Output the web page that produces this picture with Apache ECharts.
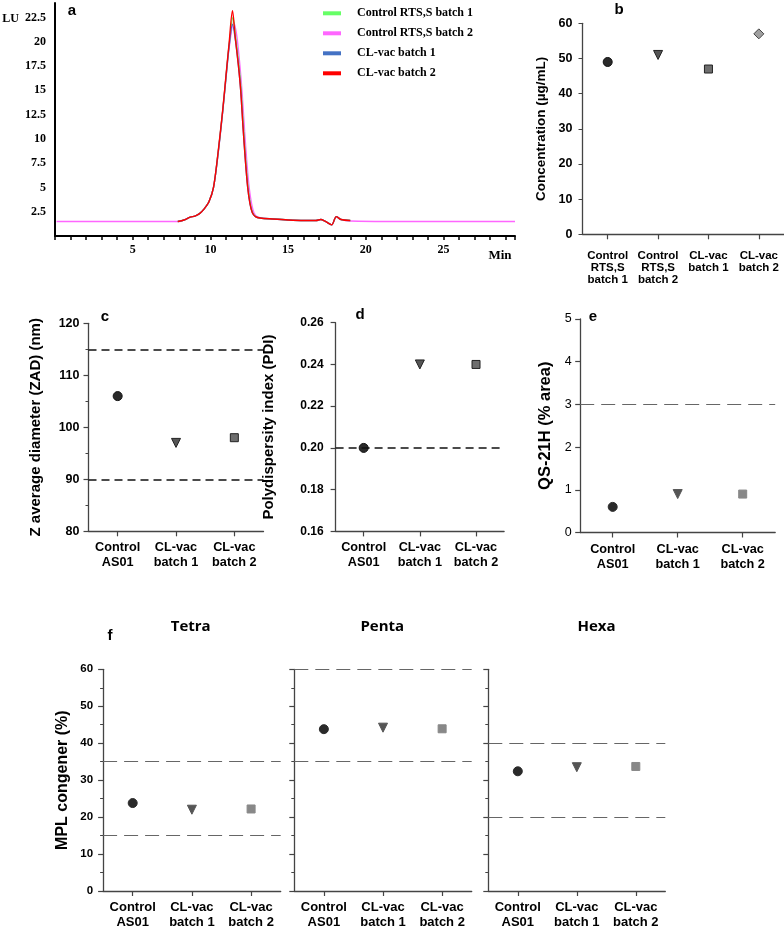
<!DOCTYPE html>
<html><head><meta charset="utf-8">
<script src="https://cdn.jsdelivr.net/npm/echarts@6/dist/echarts.min.js"></script>
<style>html,body{margin:0;padding:0;background:#fff}#c{width:784px;height:932px}</style>
</head><body><div id="c"></div>
<script>
// ---------- DATA ----------
const hplcNames = ['Control RTS,S batch 1', 'Control RTS,S batch 2', 'CL-vac batch 1', 'CL-vac batch 2'];
const hplcGreen = [[7.9,1.5],[8.3,1.65],[8.7,1.95],[9.0,2.05],[9.3,2.3],[9.6,2.8],[9.9,3.5],[10.2,5.0],[10.5,8.6],[10.8,13.0],[11.0,16.3],[11.2,19.6],[11.45,22.5],[11.62,20.6],[11.82,17.8],[11.97,15.2],[12.12,11.4],[12.27,7.9],[12.42,5.1],[12.57,3.3],[12.72,2.4],[12.92,2.0],[13.2,1.85],[14.0,1.75],[15.0,1.65],[16.0,1.6],[16.8,1.6],[17.1,1.7],[17.4,1.5],[17.8,1.15],[18.1,2.0],[18.4,1.7],[19.0,1.6]];
const hplcPink = [[0.1,1.5],[8.0,1.5],[8.3,1.65],[8.7,1.95],[9.0,2.05],[9.3,2.3],[9.6,2.8],[9.9,3.5],[10.2,5.0],[10.5,8.5],[10.8,12.9],[11.0,16.2],[11.2,19.3],[11.5,22.0],[11.7,20.6],[11.9,17.5],[12.05,14.5],[12.2,10.8],[12.35,7.5],[12.5,4.9],[12.65,3.3],[12.8,2.4],[13.0,2.0],[13.3,1.85],[14.0,1.75],[15.0,1.65],[16.0,1.6],[16.8,1.6],[17.1,1.7],[17.4,1.5],[17.8,1.15],[18.1,2.0],[18.4,1.7],[19.0,1.55],[22.0,1.5],[29.6,1.5]];
const hplcBlue = [[7.9,1.5],[8.3,1.65],[8.7,1.95],[9.0,2.05],[9.3,2.3],[9.6,2.8],[9.9,3.5],[10.2,5.0],[10.5,8.6],[10.8,13.0],[11.0,16.3],[11.2,19.5],[11.42,21.8],[11.6,20.3],[11.8,17.6],[11.95,15.0],[12.1,11.2],[12.25,7.8],[12.4,5.0],[12.55,3.3],[12.7,2.4],[12.9,2.0],[13.2,1.85],[14.0,1.75],[15.0,1.65],[16.0,1.6],[16.8,1.6],[17.1,1.7],[17.4,1.5],[17.8,1.15],[18.1,2.0],[18.4,1.7],[19.0,1.6]];
const hplcRed = [[7.9,1.5],[8.3,1.65],[8.7,1.95],[9.0,2.05],[9.3,2.3],[9.6,2.8],[9.9,3.5],[10.2,5.0],[10.5,8.7],[10.8,13.1],[11.0,16.5],[11.2,19.8],[11.42,23.2],[11.6,20.4],[11.8,17.6],[11.95,15.0],[12.1,11.2],[12.25,7.8],[12.4,5.0],[12.55,3.3],[12.7,2.4],[12.9,2.0],[13.2,1.85],[14.0,1.75],[15.0,1.65],[16.0,1.6],[16.8,1.6],[17.1,1.7],[17.4,1.5],[17.8,1.15],[18.1,2.0],[18.4,1.7],[19.0,1.6]];

const concCategories = ['Control\nRTS,S\nbatch 1', 'Control\nRTS,S\nbatch 2', 'CL-vac\nbatch 1', 'CL-vac\nbatch 2'];
const concValues = [49, 51, 47, 57];

const as01Categories = ['Control\nAS01', 'CL-vac\nbatch 1', 'CL-vac\nbatch 2'];
const zadValues = [106, 97, 98];
const zadLimits = [115, 90];
const pdiValues = [0.20, 0.24, 0.24];
const pdiLimits = [0.20];
const qsValues = [0.6, 0.9, 0.9];
const qsLimits = [3];
const tetraValues = [23.8, 22.0, 22.2];
const tetraLimits = [35, 15];
const pentaValues = [43.8, 44.2, 43.9];
const pentaLimits = [60, 35];
const hexaValues = [32.4, 33.5, 33.7];
const hexaLimits = [40, 20];

// ---------- STYLE ----------
const SANS = '"Liberation Sans", Arial, sans-serif';
const SERIF = '"Liberation Serif", "Times New Roman", serif';
const AX = '#444';

const symB = [
  {symbol:'circle', size:9, color:'#2a2a2a', border:'#111'},
  {symbol:'triangle', rotate:180, size:9, color:'#555', border:'#222'},
  {symbol:'rect', size:8, color:'#6e6e6e', border:'#222'},
  {symbol:'diamond', size:10, color:'#a0a0a0', border:'#444'}
];
const symC = [
  {symbol:'circle', size:9, color:'#2a2a2a', border:'#111'},
  {symbol:'triangle', rotate:180, size:9, color:'#555', border:'#222'},
  {symbol:'rect', size:8, color:'#6e6e6e', border:'#222'}
];
const symE = [
  {symbol:'circle', size:9, color:'#2a2a2a', border:'#2a2a2a'},
  {symbol:'triangle', rotate:180, size:9, color:'#555', border:'#555'},
  {symbol:'rect', size:8, color:'#888', border:'#888'}
];

function scatter(xi, vals, syms, limits, lineStyle) {
  const s = {
    type:'scatter', xAxisIndex:xi, yAxisIndex:xi, silent:true,
    data: vals.map((v,i)=>({value:v, symbol:syms[i].symbol, symbolSize:syms[i].size, symbolRotate:syms[i].rotate||0,
      itemStyle:{color:syms[i].color, borderColor:syms[i].border, borderWidth:1, opacity:1}}))
  };
  if (limits) {
    s.markLine = {silent:true, symbol:['none','none'], label:{show:false}, animation:false,
      lineStyle:lineStyle, data: limits.map(l=>({yAxis:l}))};
  }
  return s;
}
function catX(gi, cats, fs, lh, margin) {
  return {gridIndex:gi, type:'category', data:cats, boundaryGap:true,
    axisLine:{show:true, lineStyle:{color:AX, width:1.3}},
    axisTick:{show:true, alignWithLabel:true, length:5, lineStyle:{color:AX, width:1.2}},
    axisLabel:{interval:0, fontFamily:SANS, fontWeight:'bold', fontSize:fs, lineHeight:lh, color:'#000', margin:margin},
    splitLine:{show:false}};
}
function valY(gi, min, max, interval, o) {
  return Object.assign({gridIndex:gi, type:'value', min:min, max:max, interval:interval,
    axisLine:{show:true, lineStyle:{color:AX, width:1.3}},
    axisTick:{show:true, length:5, lineStyle:{color:AX, width:1.2}},
    splitLine:{show:false},
    axisLabel:{fontFamily:SANS, fontWeight:'bold', fontSize:12, color:'#000', margin:10},
    nameLocation:'middle'}, o);
}

const chart = echarts.init(document.getElementById('c'), null, {renderer:'canvas'});

const grids = [
  {left:55, top:3, width:460, height:233},          // a
  {left:582.5, top:23.3, width:201.5, height:211},  // b
  {left:88.5, top:323.3, width:175, height:208},    // c
  {left:335.6, top:322.7, width:168.5, height:208.7}, // d
  {left:580.2, top:319, width:195, height:213.5},   // e
  {left:103.1, top:669.3, width:177.6, height:221.7}, // tetra
  {left:294.3, top:669.3, width:177.4, height:221.7}, // penta
  {left:488.3, top:669.3, width:177, height:221.7}   // hexa
];

const xAxes = [
  {gridIndex:0, type:'value', min:0, max:29.6, interval:1,
    axisLine:{show:true, lineStyle:{color:'#000', width:2}},
    axisTick:{show:true, length:4, lineStyle:{color:'#000', width:1.5}},
    axisLabel:{formatter:v=>(v>0 && v%5===0)?String(v):'', fontFamily:SERIF, fontWeight:'bold', fontSize:12, color:'#000', margin:8},
    splitLine:{show:false}},
  catX(1, concCategories, 11.5, 12.3, 15),
  catX(2, as01Categories, 12.7, 15, 9),
  catX(3, as01Categories, 12.7, 15, 9),
  catX(4, as01Categories, 12.7, 15, 9),
  catX(5, as01Categories, 13, 15, 9),
  catX(6, as01Categories, 13, 15, 9),
  catX(7, as01Categories, 13, 15, 9)
];

const yAxes = [
  {gridIndex:0, type:'value', min:0, max:24, interval:2.5,
    axisLine:{show:true, lineStyle:{color:'#000', width:2}},
    axisTick:{show:false},
    axisLabel:{formatter:v=>(v>0 && v<23)?String(v):'', fontFamily:SERIF, fontWeight:'bold', fontSize:12, color:'#000', margin:9},
    splitLine:{show:false}},
  valY(1, 0, 60, 10, {name:'Concentration (µg/mL)', nameGap:34, axisTick:{show:true, length:4, lineStyle:{color:AX}},
    axisLabel:{fontFamily:SANS, fontWeight:'bold', fontSize:12.5, color:'#000', margin:10},
    nameTextStyle:{fontFamily:SANS, fontWeight:'bold', fontSize:13.5, color:'#000'}}),
  valY(2, 80, 120, 10, {name:'Z average diameter (ZAD) (nm)', nameGap:45,
    minorTick:{show:true, splitNumber:2, length:3, lineStyle:{color:AX}},
    axisLabel:{fontFamily:SANS, fontWeight:'bold', fontSize:12.5, color:'#000', margin:9},
    nameTextStyle:{fontFamily:SANS, fontWeight:'bold', fontSize:15, color:'#000'}}),
  valY(3, 0.16, 0.26, 0.02, {name:'Polydispersity index (PDI)', nameGap:59,
    axisLabel:{fontFamily:SANS, fontWeight:'bold', fontSize:12, color:'#000', margin:12, formatter:v=>v.toFixed(2)},
    nameTextStyle:{fontFamily:SANS, fontWeight:'bold', fontSize:15, color:'#000'}}),
  valY(4, 0, 5, 1, {name:'QS-21H (% area)', nameGap:26,
    axisLabel:{fontFamily:SANS, fontWeight:'normal', fontSize:12.5, color:'#000', margin:8.5},
    nameTextStyle:{fontFamily:SANS, fontWeight:'bold', fontSize:16.5, color:'#000'}}),
  valY(5, 0, 60, 10, {name:'MPL congener (%)', nameGap:33,
    minorTick:{show:true, splitNumber:2, length:3, lineStyle:{color:AX}},
    axisLabel:{fontFamily:SANS, fontWeight:'bold', fontSize:11.5, color:'#000', margin:10},
    nameTextStyle:{fontFamily:SANS, fontWeight:'bold', fontSize:16, color:'#000'}}),
  valY(6, 0, 60, 10, {minorTick:{show:true, splitNumber:2, length:3, lineStyle:{color:AX}}, axisLabel:{show:false}}),
  valY(7, 0, 60, 10, {minorTick:{show:true, splitNumber:2, length:3, lineStyle:{color:AX}}, axisLabel:{show:false}})
];

const hplcColors = ['#66ff66', '#ff66ff', '#4472c4', '#ff0000'];
const hplcData = [hplcGreen, hplcPink, hplcBlue, hplcRed];
const series = [];
[1,0,2,3].forEach(i=>{
  series.push({type:'line', name:hplcNames[i], xAxisIndex:0, yAxisIndex:0, data:hplcData[i], showSymbol:false, symbol:'none',
    smooth:0.3, silent:true, color:hplcColors[i], lineStyle:{color:hplcColors[i], width:1.4}});
});

const blackDash = {color:'#111', type:[8,5], width:1.5};
const grayDash = {color:'#666', type:[14,7], width:1};
series.push(scatter(1, concValues, symB, null));
series.push(scatter(2, zadValues, symC, zadLimits, blackDash));
series.push(scatter(3, pdiValues, symC, pdiLimits, blackDash));
series.push(scatter(4, qsValues, symE, qsLimits, grayDash));
series.push(scatter(5, tetraValues, symE, tetraLimits, grayDash));
series.push(scatter(6, pentaValues, symE, pentaLimits, grayDash));
series.push(scatter(7, hexaValues, symE, hexaLimits, grayDash));

function txt(t, x, y, font) {
  return {type:'text', x:x, y:y, silent:true, style:{text:t, font:font, fill:'#000', textAlign:'center', textVerticalAlign:'middle'}};
}
const letterFont = 'bold 15px ' + SANS;
const graphics = [
  txt('a', 72, 11, letterFont), txt('b', 619, 10, letterFont), txt('c', 105, 317, letterFont),
  txt('d', 360, 315, letterFont), txt('e', 593, 317, letterFont), txt('f', 110, 636, letterFont),
  txt('LU', 10.5, 19, 'bold 12px ' + SERIF), txt('Min', 500, 256, 'bold 13px ' + SERIF),
  txt('Tetra', 190.7, 626.7, 'bold 15px "Open Sans", sans-serif'),
  txt('Penta', 382.3, 626.7, 'bold 15px "Open Sans", sans-serif'),
  txt('Hexa', 596.5, 626.7, 'bold 15px "Open Sans", sans-serif')
];

chart.setOption({
  animation:false,
  backgroundColor:'#fff',
  grid:grids,
  xAxis:xAxes,
  yAxis:yAxes,
  legend:{show:true, orient:'vertical', left:318, top:2.3, itemWidth:18, itemHeight:4, itemGap:8, icon:'rect',
    data:hplcNames, selectedMode:false,
    textStyle:{fontFamily:SERIF, fontWeight:'bold', fontSize:12, color:'#000', lineHeight:12, padding:[0,0,0,11]}},
  series:series,
  graphic:graphics
});
</script></body></html>
